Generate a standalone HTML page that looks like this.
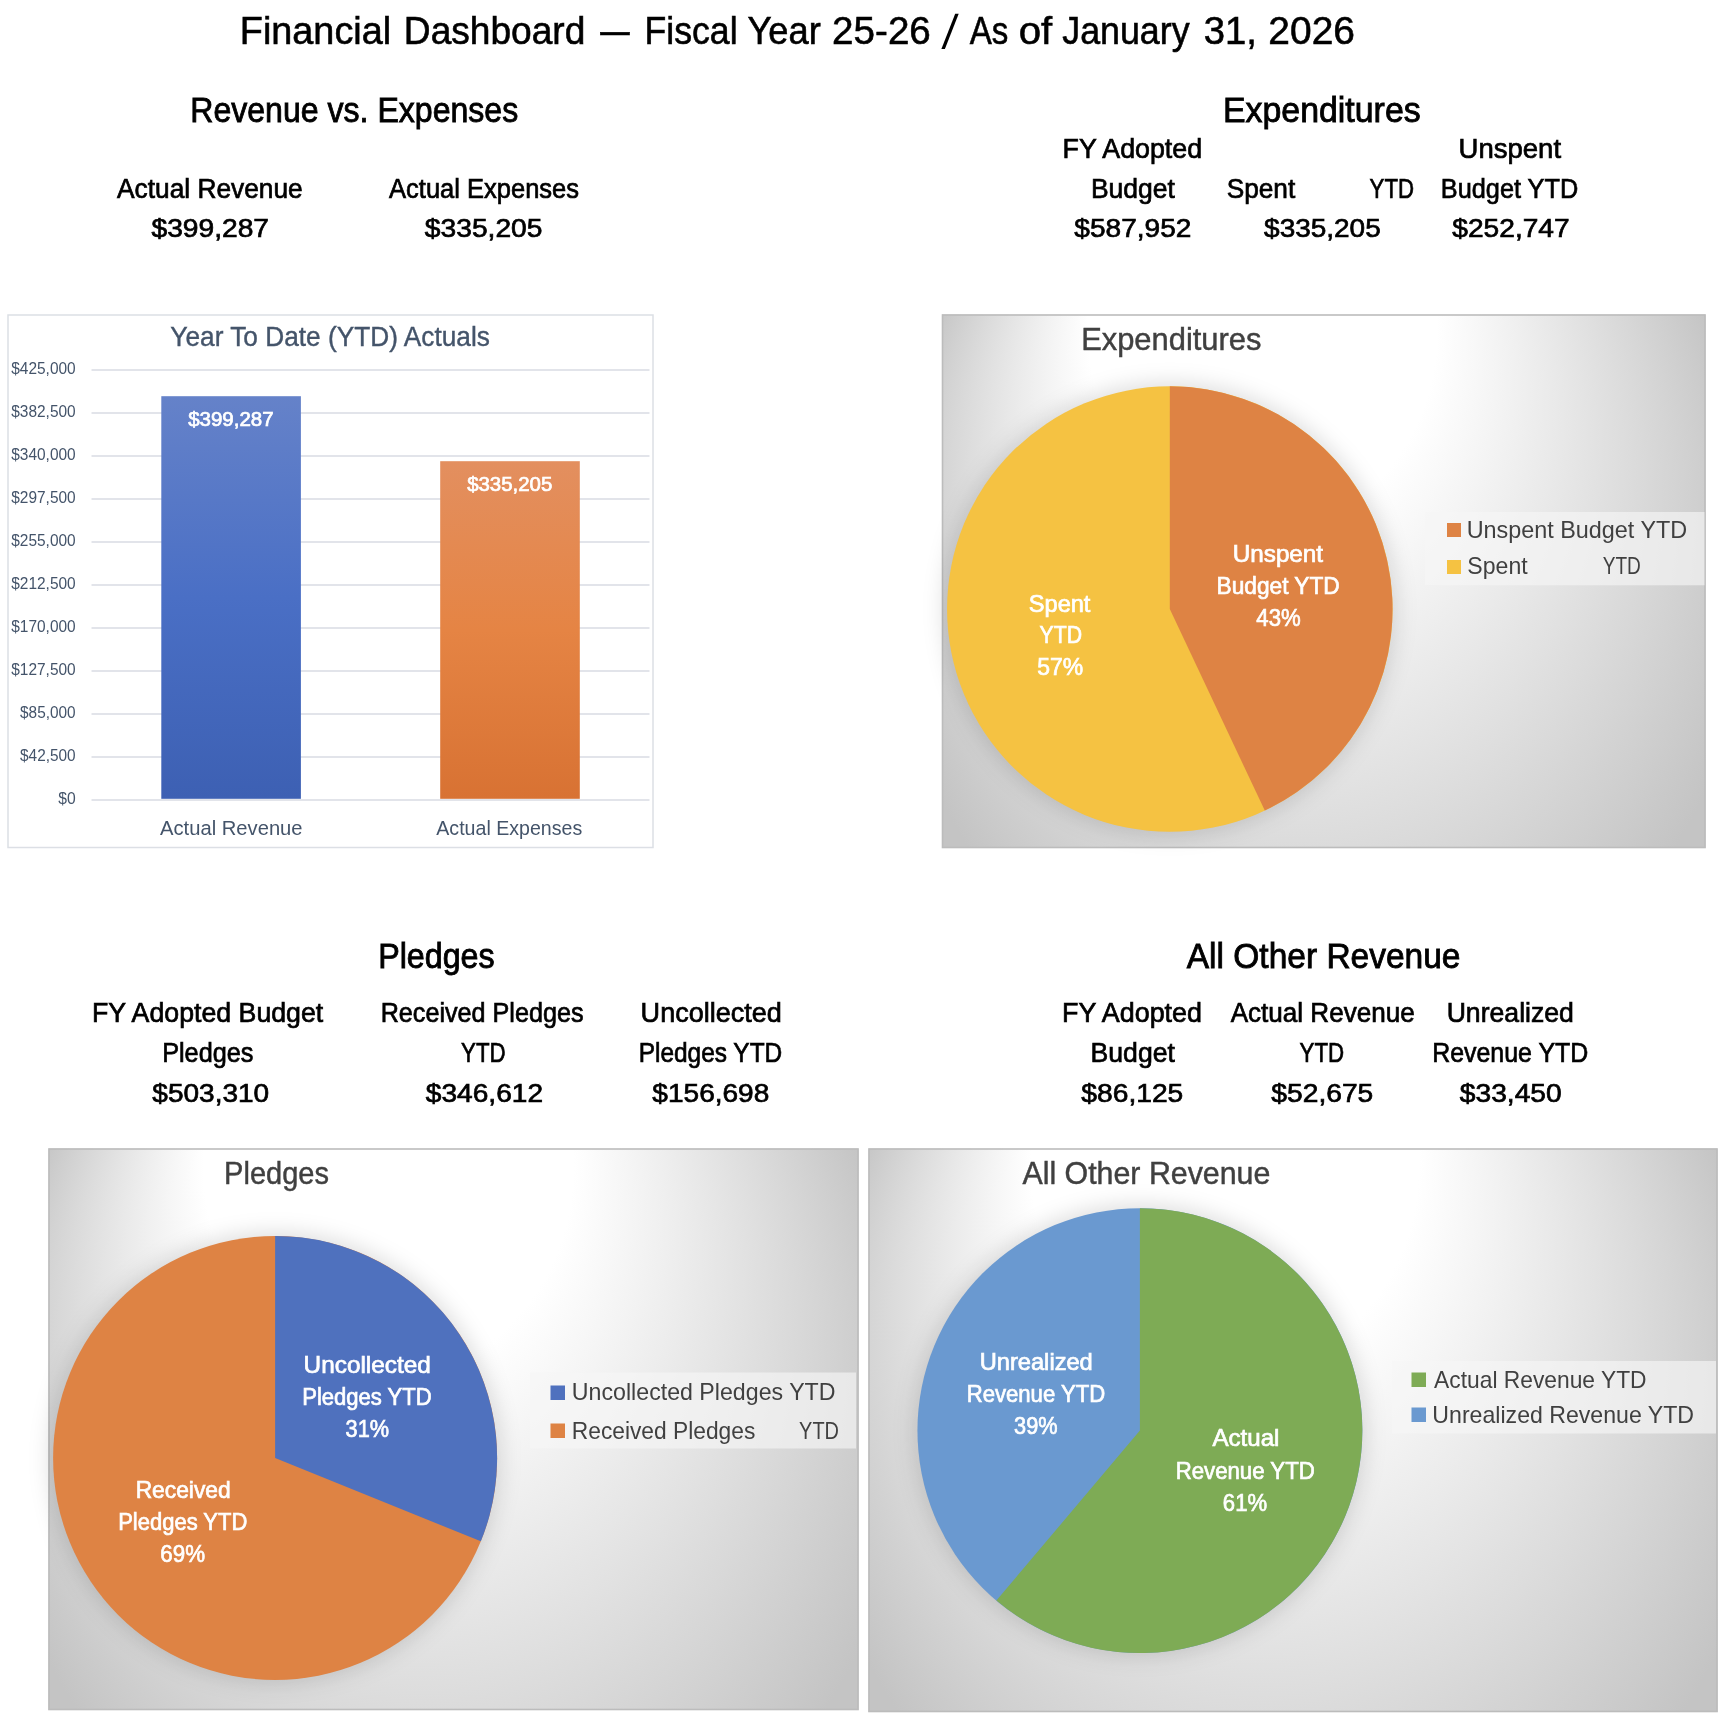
<!DOCTYPE html>
<html><head><meta charset="utf-8"><title>Financial Dashboard</title>
<style>
html,body{margin:0;padding:0;background:#fff;}
body{width:1732px;height:1734px;overflow:hidden;}
svg{display:block;font-family:"Liberation Sans",sans-serif;will-change:transform;}
text{white-space:pre;}
</style></head><body>
<svg width="1732" height="1734" viewBox="0 0 1732 1734">
<rect width="1732" height="1734" fill="#fff"/>
<text transform="translate(239.77 43.90) scale(0.9655 1)" font-size="39.2" fill="#000" stroke="#000" stroke-width="0.6">Financial</text>
<text transform="translate(403.83 43.90) scale(0.9470 1)" font-size="39.2" fill="#000" stroke="#000" stroke-width="0.6">Dashboard</text>
<text transform="translate(600.30 43.90) scale(0.7500 1)" font-size="39.2" fill="#000" stroke="#000" stroke-width="0.6">—</text>
<text transform="translate(644.45 43.90) scale(0.9097 1)" font-size="39.2" fill="#000" stroke="#000" stroke-width="0.6">Fiscal</text>
<text transform="translate(747.39 43.90) scale(0.9264 1)" font-size="39.2" fill="#000" stroke="#000" stroke-width="0.6">Year</text>
<text transform="translate(832.12 43.90) scale(0.9847 1)" font-size="39.2" fill="#000" stroke="#000" stroke-width="0.6">25-26</text>
<text transform="translate(969.80 43.90) scale(0.8443 1)" font-size="39.2" fill="#000" stroke="#000" stroke-width="0.6">As</text>
<text transform="translate(1018.69 43.90) scale(1.0236 1)" font-size="39.2" fill="#000" stroke="#000" stroke-width="0.6">of</text>
<text transform="translate(1062.26 43.90) scale(0.9132 1)" font-size="39.2" fill="#000" stroke="#000" stroke-width="0.6">January</text>
<text transform="translate(1203.77 43.90) scale(0.9749 1)" font-size="39.2" fill="#000" stroke="#000" stroke-width="0.6">31,</text>
<text transform="translate(1268.35 43.90) scale(0.9935 1)" font-size="39.2" fill="#000" stroke="#000" stroke-width="0.6">2026</text>
<polygon points="941.4,48.9 944.9,48.9 958.7,13.8 955.2,13.8" fill="#000"/>
<text transform="translate(190.26 121.90) scale(0.9297 1)" font-size="34.5" fill="#000" stroke="#000" stroke-width="0.85">Revenue vs. Expenses</text>
<text transform="translate(117.05 197.60) scale(0.9534 1)" font-size="27.6" fill="#000" stroke="#000" stroke-width="0.7">Actual Revenue</text>
<text transform="translate(151.47 237.40) scale(1.0722 1)" font-size="26.3" fill="#000" stroke="#000" stroke-width="0.7">$399,287</text>
<text transform="translate(389.05 197.60) scale(0.9245 1)" font-size="27.6" fill="#000" stroke="#000" stroke-width="0.7">Actual Expenses</text>
<text transform="translate(424.87 237.40) scale(1.0724 1)" font-size="26.3" fill="#000" stroke="#000" stroke-width="0.7">$335,205</text>
<text transform="translate(1223.02 121.90) scale(0.9818 1)" font-size="34.5" fill="#000" stroke="#000" stroke-width="0.85">Expenditures</text>
<text transform="translate(1062.50 157.60) scale(0.9717 1)" font-size="27.6" fill="#000" stroke="#000" stroke-width="0.7">FY Adopted</text>
<text transform="translate(1458.59 157.60) scale(0.9974 1)" font-size="27.6" fill="#000" stroke="#000" stroke-width="0.7">Unspent</text>
<text transform="translate(1090.93 197.60) scale(0.9611 1)" font-size="27.6" fill="#000" stroke="#000" stroke-width="0.7">Budget</text>
<text transform="translate(1226.67 197.60) scale(0.9511 1)" font-size="27.6" fill="#000" stroke="#000" stroke-width="0.7">Spent</text>
<text transform="translate(1369.59 197.60) scale(0.8054 1)" font-size="27.6" fill="#000" stroke="#000" stroke-width="0.7">YTD</text>
<text transform="translate(1440.83 197.60) scale(0.9167 1)" font-size="27.6" fill="#000" stroke="#000" stroke-width="0.7">Budget YTD</text>
<text transform="translate(1074.37 237.40) scale(1.0667 1)" font-size="26.3" fill="#000" stroke="#000" stroke-width="0.7">$587,952</text>
<text transform="translate(1264.07 237.40) scale(1.0641 1)" font-size="26.3" fill="#000" stroke="#000" stroke-width="0.7">$335,205</text>
<text transform="translate(1452.27 237.40) scale(1.0704 1)" font-size="26.3" fill="#000" stroke="#000" stroke-width="0.7">$252,747</text>
<text transform="translate(378.15 967.50) scale(0.9346 1)" font-size="34.5" fill="#000" stroke="#000" stroke-width="0.85">Pledges</text>
<text transform="translate(92.01 1021.80) scale(0.9682 1)" font-size="27.6" fill="#000" stroke="#000" stroke-width="0.7">FY Adopted Budget</text>
<text transform="translate(162.13 1061.80) scale(0.9161 1)" font-size="27.6" fill="#000" stroke="#000" stroke-width="0.7">Pledges</text>
<text transform="translate(152.37 1101.80) scale(1.0646 1)" font-size="26.3" fill="#000" stroke="#000" stroke-width="0.7">$503,310</text>
<text transform="translate(380.64 1021.80) scale(0.9121 1)" font-size="27.6" fill="#000" stroke="#000" stroke-width="0.7">Received Pledges</text>
<text transform="translate(461.09 1061.80) scale(0.8072 1)" font-size="27.6" fill="#000" stroke="#000" stroke-width="0.7">YTD</text>
<text transform="translate(425.87 1101.80) scale(1.0685 1)" font-size="26.3" fill="#000" stroke="#000" stroke-width="0.7">$346,612</text>
<text transform="translate(640.62 1021.80) scale(0.9797 1)" font-size="27.6" fill="#000" stroke="#000" stroke-width="0.7">Uncollected</text>
<text transform="translate(638.69 1061.80) scale(0.8861 1)" font-size="27.6" fill="#000" stroke="#000" stroke-width="0.7">Pledges YTD</text>
<text transform="translate(652.37 1101.80) scale(1.0659 1)" font-size="26.3" fill="#000" stroke="#000" stroke-width="0.7">$156,698</text>
<text transform="translate(1186.72 967.50) scale(0.9716 1)" font-size="34.5" fill="#000" stroke="#000" stroke-width="0.85">All Other Revenue</text>
<text transform="translate(1062.00 1021.80) scale(0.9738 1)" font-size="27.6" fill="#000" stroke="#000" stroke-width="0.7">FY Adopted</text>
<text transform="translate(1090.52 1061.80) scale(0.9646 1)" font-size="27.6" fill="#000" stroke="#000" stroke-width="0.7">Budget</text>
<text transform="translate(1081.37 1101.80) scale(1.0719 1)" font-size="26.3" fill="#000" stroke="#000" stroke-width="0.7">$86,125</text>
<text transform="translate(1230.65 1021.80) scale(0.9452 1)" font-size="27.6" fill="#000" stroke="#000" stroke-width="0.7">Actual Revenue</text>
<text transform="translate(1299.59 1061.80) scale(0.8072 1)" font-size="27.6" fill="#000" stroke="#000" stroke-width="0.7">YTD</text>
<text transform="translate(1271.37 1101.80) scale(1.0719 1)" font-size="26.3" fill="#000" stroke="#000" stroke-width="0.7">$52,675</text>
<text transform="translate(1446.65 1021.80) scale(0.9644 1)" font-size="27.6" fill="#000" stroke="#000" stroke-width="0.7">Unrealized</text>
<text transform="translate(1432.15 1061.80) scale(0.9036 1)" font-size="27.6" fill="#000" stroke="#000" stroke-width="0.7">Revenue YTD</text>
<text transform="translate(1459.87 1101.80) scale(1.0704 1)" font-size="26.3" fill="#000" stroke="#000" stroke-width="0.7">$33,450</text>
<rect x="8" y="315" width="645" height="532.5" fill="#fff" stroke="#dcdfe5" stroke-width="1.5"/>
<text transform="translate(170.34 345.80) scale(0.9551 1)" font-size="27.5" fill="#44546a" stroke="#44546a" stroke-width="0.4">Year To Date (YTD) Actuals</text>
<rect x="91.5" y="799.2" width="558" height="1.6" fill="#dbdee5"/>
<text transform="translate(58.34 803.50) scale(0.9800 1)" font-size="16" fill="#44546a">$0</text>
<rect x="91.5" y="756.2" width="558" height="1.6" fill="#dbdee5"/>
<text transform="translate(20.05 760.50) scale(0.9629 1)" font-size="16" fill="#44546a">$42,500</text>
<rect x="91.5" y="713.2" width="558" height="1.6" fill="#dbdee5"/>
<text transform="translate(20.05 717.50) scale(0.9629 1)" font-size="16" fill="#44546a">$85,000</text>
<rect x="91.5" y="670.2" width="558" height="1.6" fill="#dbdee5"/>
<text transform="translate(11.25 674.50) scale(0.9667 1)" font-size="16" fill="#44546a">$127,500</text>
<rect x="91.5" y="627.2" width="558" height="1.6" fill="#dbdee5"/>
<text transform="translate(11.25 631.50) scale(0.9667 1)" font-size="16" fill="#44546a">$170,000</text>
<rect x="91.5" y="584.2" width="558" height="1.6" fill="#dbdee5"/>
<text transform="translate(11.25 588.50) scale(0.9667 1)" font-size="16" fill="#44546a">$212,500</text>
<rect x="91.5" y="541.2" width="558" height="1.6" fill="#dbdee5"/>
<text transform="translate(11.25 545.50) scale(0.9667 1)" font-size="16" fill="#44546a">$255,000</text>
<rect x="91.5" y="498.2" width="558" height="1.6" fill="#dbdee5"/>
<text transform="translate(11.25 502.50) scale(0.9667 1)" font-size="16" fill="#44546a">$297,500</text>
<rect x="91.5" y="455.2" width="558" height="1.6" fill="#dbdee5"/>
<text transform="translate(11.25 459.50) scale(0.9667 1)" font-size="16" fill="#44546a">$340,000</text>
<rect x="91.5" y="412.2" width="558" height="1.6" fill="#dbdee5"/>
<text transform="translate(11.25 416.50) scale(0.9667 1)" font-size="16" fill="#44546a">$382,500</text>
<rect x="91.5" y="369.2" width="558" height="1.6" fill="#dbdee5"/>
<text transform="translate(11.25 373.50) scale(0.9667 1)" font-size="16" fill="#44546a">$425,000</text>
<defs><linearGradient id="gb" x1="0" y1="0" x2="0" y2="1"><stop offset="0" stop-color="#6582c9"/><stop offset="0.5" stop-color="#4a6fc5"/><stop offset="1" stop-color="#3d60b3"/></linearGradient>
<linearGradient id="go" x1="0" y1="0" x2="0" y2="1"><stop offset="0" stop-color="#e38f5f"/><stop offset="0.5" stop-color="#e58444"/><stop offset="1" stop-color="#d87233"/></linearGradient></defs>
<rect x="161.3" y="396.2" width="139.6" height="402.6" fill="url(#gb)"/>
<rect x="440.2" y="461.2" width="139.6" height="337.6" fill="url(#go)"/>
<text transform="translate(188.15 426.30) scale(1.0243 1)" font-size="20" fill="#fff" stroke="#fff" stroke-width="0.7">$399,287</text>
<text transform="translate(467.15 491.30) scale(1.0218 1)" font-size="20" fill="#fff" stroke="#fff" stroke-width="0.7">$335,205</text>
<text transform="translate(160.00 835.00) scale(1.0466 1)" font-size="19.3" fill="#44546a">Actual Revenue</text>
<text transform="translate(436.30 835.00) scale(1.0153 1)" font-size="19.3" fill="#44546a">Actual Expenses</text>
<defs><filter id="sh" x="-20%" y="-20%" width="140%" height="140%"><feGaussianBlur stdDeviation="10"/></filter></defs>
<defs><radialGradient id="g1" gradientUnits="userSpaceOnUse" cx="0" cy="0" r="1" fx="-0.2248" fy="-0.7347" gradientTransform="translate(1321.61 552.12) scale(437.71 500.58)"><stop offset="0.3985" stop-color="#fff"/><stop offset="1" stop-color="#c4c4c4"/></radialGradient></defs>
<rect x="942" y="314.5" width="763.5" height="533.5" fill="url(#g1)"/>
<rect x="942.5" y="315.0" width="762.5" height="532.5" fill="none" stroke="#bcbcbc" stroke-width="1.6"/>
<text transform="translate(1081.15 349.70) scale(0.9810 1)" font-size="31.5" fill="#404040" stroke="#404040" stroke-width="0.45">Expenditures</text>
<circle cx="1169.8" cy="609.1" r="227.21" fill="#000" fill-opacity="0.12" filter="url(#sh)"/>
<circle cx="1169.8" cy="609.1" r="222.75" fill="#f5c242"/>
<path d="M1169.8 609.1 L1169.8 386.35 A222.75 222.75 0 0 1 1264.80 810.58 Z" fill="#de8344"/>
<text transform="translate(1232.73 561.60) scale(1.0334 1)" font-size="23.5" fill="#fff" stroke="#fff" stroke-width="0.7">Unspent</text>
<text transform="translate(1216.53 593.60) scale(0.9659 1)" font-size="23.5" fill="#fff" stroke="#fff" stroke-width="0.7">Budget YTD</text>
<text transform="translate(1256.31 625.80) scale(0.9430 1)" font-size="23.5" fill="#fff" stroke="#fff" stroke-width="0.7">43%</text>
<text transform="translate(1028.79 611.50) scale(1.0040 1)" font-size="23.5" fill="#fff" stroke="#fff" stroke-width="0.7">Spent</text>
<text transform="translate(1039.52 643.30) scale(0.9040 1)" font-size="23.5" fill="#fff" stroke="#fff" stroke-width="0.7">YTD</text>
<text transform="translate(1037.33 675.40) scale(0.9771 1)" font-size="23.5" fill="#fff" stroke="#fff" stroke-width="0.7">57%</text>
<rect x="1425" y="512" width="279.5" height="73.29999999999995" fill="#f6f6f6" fill-opacity="0.65"/>
<rect x="1447" y="523" width="14" height="14" fill="#de8344"/>
<rect x="1447" y="560" width="14" height="14" fill="#f5c242"/>
<text transform="translate(1466.65 537.90) scale(1.0171 1)" font-size="23" fill="#404040">Unspent Budget YTD</text>
<text transform="translate(1467.36 574.30) scale(1.0037 1)" font-size="23" fill="#404040">Spent</text>
<text transform="translate(1602.72 574.30) scale(0.8290 1)" font-size="23" fill="#404040">YTD</text>
<defs><radialGradient id="g2" gradientUnits="userSpaceOnUse" cx="0" cy="0" r="1" fx="-0.2248" fy="-0.7347" gradientTransform="translate(451.23 1398.59) scale(464.37 526.86)"><stop offset="0.3985" stop-color="#fff"/><stop offset="1" stop-color="#c4c4c4"/></radialGradient></defs>
<rect x="48.5" y="1148.5" width="810.0" height="561.5" fill="url(#g2)"/>
<rect x="49.0" y="1149.0" width="809.0" height="560.5" fill="none" stroke="#bcbcbc" stroke-width="1.6"/>
<text transform="translate(224.10 1183.80) scale(0.9211 1)" font-size="31.5" fill="#404040" stroke="#404040" stroke-width="0.45">Pledges</text>
<circle cx="275.1" cy="1457.9" r="226.44" fill="#000" fill-opacity="0.12" filter="url(#sh)"/>
<circle cx="275.1" cy="1457.9" r="222" fill="#de8344"/>
<path d="M275.1 1457.9 L275.1 1235.9 A222 222 0 0 1 480.82 1541.35 Z" fill="#4f71be"/>
<text transform="translate(303.62 1372.50) scale(1.0360 1)" font-size="23.5" fill="#fff" stroke="#fff" stroke-width="0.7">Uncollected</text>
<text transform="translate(302.18 1405.00) scale(0.9392 1)" font-size="23.5" fill="#fff" stroke="#fff" stroke-width="0.7">Pledges YTD</text>
<text transform="translate(345.58 1436.50) scale(0.9240 1)" font-size="23.5" fill="#fff" stroke="#fff" stroke-width="0.7">31%</text>
<text transform="translate(135.63 1497.50) scale(0.9705 1)" font-size="23.5" fill="#fff" stroke="#fff" stroke-width="0.7">Received</text>
<text transform="translate(118.19 1530.00) scale(0.9355 1)" font-size="23.5" fill="#fff" stroke="#fff" stroke-width="0.7">Pledges YTD</text>
<text transform="translate(160.33 1561.50) scale(0.9511 1)" font-size="23.5" fill="#fff" stroke="#fff" stroke-width="0.7">69%</text>
<rect x="530" y="1372.5" width="326" height="76.0" fill="#f6f6f6" fill-opacity="0.65"/>
<rect x="550.5" y="1385.5" width="14.5" height="14.5" fill="#4f71be"/>
<rect x="550.5" y="1423.5" width="14.5" height="14.5" fill="#de8344"/>
<text transform="translate(571.86 1400.00) scale(1.0082 1)" font-size="23" fill="#404040">Uncollected Pledges YTD</text>
<text transform="translate(571.78 1438.50) scale(0.9905 1)" font-size="23" fill="#404040">Received Pledges</text>
<text transform="translate(799.10 1438.50) scale(0.8673 1)" font-size="23" fill="#404040">YTD</text>
<defs><radialGradient id="g3" gradientUnits="userSpaceOnUse" cx="0" cy="0" r="1" fx="-0.2248" fy="-0.7347" gradientTransform="translate(1290.62 1399.48) scale(486.73 528.73)"><stop offset="0.3985" stop-color="#fff"/><stop offset="1" stop-color="#c4c4c4"/></radialGradient></defs>
<rect x="868.5" y="1148.5" width="849.0" height="563.5" fill="url(#g3)"/>
<rect x="869.0" y="1149.0" width="848.0" height="562.5" fill="none" stroke="#bcbcbc" stroke-width="1.6"/>
<text transform="translate(1022.43 1183.80) scale(0.9637 1)" font-size="31.5" fill="#404040" stroke="#404040" stroke-width="0.45">All Other Revenue</text>
<circle cx="1139.9" cy="1430.6" r="226.90" fill="#000" fill-opacity="0.12" filter="url(#sh)"/>
<circle cx="1139.9" cy="1430.6" r="222.45" fill="#6a99d0"/>
<path d="M1139.9 1430.6 L1139.9 1208.1499999999999 A222.45 222.45 0 1 1 996.38 1600.56 Z" fill="#7eab55"/>
<text transform="translate(979.68 1370.00) scale(1.0070 1)" font-size="23.5" fill="#fff" stroke="#fff" stroke-width="0.7">Unrealized</text>
<text transform="translate(966.68 1401.50) scale(0.9419 1)" font-size="23.5" fill="#fff" stroke="#fff" stroke-width="0.7">Revenue YTD</text>
<text transform="translate(1014.08 1433.50) scale(0.9240 1)" font-size="23.5" fill="#fff" stroke="#fff" stroke-width="0.7">39%</text>
<text transform="translate(1212.45 1446.20) scale(1.0254 1)" font-size="23.5" fill="#fff" stroke="#fff" stroke-width="0.7">Actual</text>
<text transform="translate(1175.67 1478.60) scale(0.9454 1)" font-size="23.5" fill="#fff" stroke="#fff" stroke-width="0.7">Revenue YTD</text>
<text transform="translate(1222.85 1511.00) scale(0.9399 1)" font-size="23.5" fill="#fff" stroke="#fff" stroke-width="0.7">61%</text>
<rect x="1392" y="1361" width="324" height="72.5" fill="#f6f6f6" fill-opacity="0.65"/>
<rect x="1411.5" y="1372.5" width="14.5" height="14.5" fill="#7eab55"/>
<rect x="1411.5" y="1407.5" width="14.5" height="14.5" fill="#6a99d0"/>
<text transform="translate(1434.10 1387.50) scale(0.9914 1)" font-size="23" fill="#404040">Actual Revenue YTD</text>
<text transform="translate(1432.37 1422.50) scale(1.0054 1)" font-size="23" fill="#404040">Unrealized Revenue YTD</text>
</svg>
</body></html>
